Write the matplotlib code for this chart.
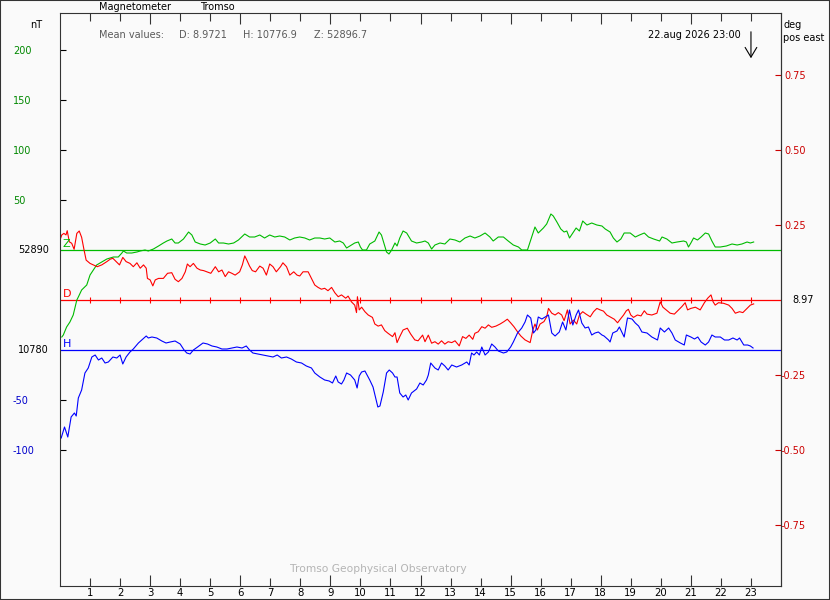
import matplotlib
matplotlib.use("Agg")
import matplotlib.pyplot as plt
from matplotlib.patches import Rectangle

plt.rcParams['font.family'] = ['DejaVu Sans']
FS = 7

# baselines and mean values printed on the chart
z_base = 52890
h_base = 10780
d_base = 8.97
mean_d, mean_h, mean_z = 8.9721, 10776.9, 52896.7

# Z component, nT above baseline
z_hours = [0.06, 0.11, 0.22, 0.33, 0.44, 0.56, 0.61, 0.72, 0.89, 1.00, 1.11, 1.22, 1.39, 1.56, 1.78, 1.94,
           2.06, 2.11, 2.22, 2.39, 2.56, 2.67, 2.83, 2.94, 3.11, 3.28, 3.44, 3.56, 3.72, 3.83, 3.94, 4.11,
           4.28, 4.39, 4.50, 4.67, 4.83, 5.00, 5.17, 5.28, 5.44, 5.61, 5.78, 5.94, 6.15, 6.31, 6.48, 6.65,
           6.81, 6.98, 7.15, 7.31, 7.48, 7.65, 7.81, 7.98, 8.15, 8.31, 8.48, 8.65, 8.81, 8.98, 9.15, 9.31,
           9.43, 9.54, 9.65, 9.81, 9.93, 10.00, 10.07, 10.20, 10.31, 10.48, 10.62, 10.70, 10.78, 10.87,
           10.95, 11.04, 11.15, 11.22, 11.31, 11.42, 11.54, 11.70, 11.87, 12.04, 12.15, 12.26, 12.37, 12.48,
           12.65, 12.81, 12.98, 13.15, 13.31, 13.48, 13.65, 13.81, 13.98, 14.15, 14.31, 14.42, 14.59, 14.76,
           14.92, 15.09, 15.26, 15.37, 15.56, 15.67, 15.81, 15.92, 16.09, 16.20, 16.34, 16.42, 16.54, 16.67,
           16.78, 16.87, 16.96, 17.07, 17.18, 17.29, 17.40, 17.54, 17.70, 17.87, 18.04, 18.15, 18.31, 18.42,
           18.54, 18.67, 18.78, 18.98, 19.15, 19.29, 19.45, 19.59, 19.76, 19.96, 20.04, 20.20, 20.37, 20.54,
           20.76, 20.85, 20.92, 21.00, 21.09, 21.22, 21.34, 21.48, 21.59, 21.70, 21.81, 21.98, 22.18, 22.37,
           22.54, 22.70, 22.87, 22.98, 23.09]
z_dev = [-87, -85, -77, -72, -65, -50, -47, -40, -35, -25, -20, -15, -12, -9, -7, -7,
         -3, -1, -3, -3, -2, -1, 0, -1, 1, 4, 7, 9, 11, 7, 7, 11,
         18, 15, 8, 6, 5, 7, 11, 7, 7, 6, 7, 10, 16, 13, 13, 15,
         12, 15, 13, 14, 13, 10, 12, 13, 12, 10, 12, 12, 11, 12, 8, 9,
         7, 2, 4, 7, 8, 3, 0, 0, 6, 9, 18, 15, 7, -2,
         -4, 0, 7, 4, 12, 19, 17, 9, 7, 8, 9, 7, 1, 5,
         7, 6, 11, 10, 8, 12, 14, 12, 14, 17, 13, 9, 13, 13,
         9, 5, 3, 0, 0, 10, 23, 17, 22, 26, 36, 34, 28, 21,
         18, 19, 12, 17, 22, 19, 29, 25, 27, 25, 24, 21, 18, 12,
         8, 11, 17, 17, 13, 15, 17, 13, 11, 9, 13, 11, 7, 8,
         9, 8, 3, 7, 12, 10, 13, 17, 16, 9, 3, 3, 4, 6,
         5, 6, 8, 7, 8]

# D component, degrees from baseline (positive east)
d_hours = [0.00, 0.06, 0.13, 0.20, 0.24, 0.31, 0.39, 0.47, 0.56, 0.64, 0.72, 0.80, 0.87, 1.00, 1.11, 1.24,
           1.39, 1.56, 1.67, 1.76, 1.87, 1.98, 2.09, 2.20, 2.33, 2.44, 2.56, 2.67, 2.78, 2.87, 2.91, 3.00,
           3.09, 3.17, 3.28, 3.44, 3.58, 3.72, 3.83, 3.94, 4.06, 4.17, 4.24, 4.33, 4.44, 4.56, 4.67, 4.78,
           4.89, 5.02, 5.17, 5.28, 5.39, 5.50, 5.61, 5.72, 5.83, 5.98, 6.07, 6.15, 6.22, 6.31, 6.40, 6.51,
           6.65, 6.76, 6.87, 6.98, 7.09, 7.20, 7.34, 7.42, 7.54, 7.65, 7.78, 7.89, 7.98, 8.09, 8.26, 8.37,
           8.48, 8.59, 8.70, 8.81, 8.92, 9.04, 9.15, 9.26, 9.37, 9.51, 9.59, 9.70, 9.81, 9.87, 9.90, 9.96,
           10.04, 10.15, 10.26, 10.40, 10.48, 10.59, 10.70, 10.81, 10.92, 11.07, 11.15, 11.22, 11.31, 11.42,
           11.56, 11.67, 11.81, 11.92, 12.07, 12.15, 12.26, 12.37, 12.48, 12.59, 12.70, 12.81, 12.92, 13.04,
           13.15, 13.29, 13.40, 13.51, 13.62, 13.74, 13.81, 13.92, 14.04, 14.15, 14.26, 14.37, 14.51, 14.65,
           14.78, 14.89, 15.00, 15.11, 15.23, 15.34, 15.48, 15.65, 15.74, 15.81, 15.89, 15.98, 16.11, 16.20,
           16.26, 16.37, 16.48, 16.59, 16.70, 16.78, 16.89, 16.98, 17.09, 17.20, 17.29, 17.40, 17.51, 17.65,
           17.76, 17.87, 17.98, 18.09, 18.20, 18.31, 18.45, 18.56, 18.65, 18.76, 18.85, 18.92, 19.00, 19.09,
           19.22, 19.34, 19.45, 19.54, 19.70, 19.87, 19.98, 20.07, 20.18, 20.31, 20.45, 20.59, 20.70, 20.81,
           20.89, 21.00, 21.15, 21.31, 21.45, 21.56, 21.67, 21.74, 21.81, 21.92, 22.09, 22.26, 22.37, 22.48,
           22.62, 22.73, 22.87, 22.98, 23.09]
d_dev = [0.200, 0.217, 0.222, 0.217, 0.231, 0.194, 0.189, 0.169, 0.222, 0.230, 0.209, 0.167, 0.133, 0.122, 0.117, 0.111,
         0.117, 0.128, 0.136, 0.139, 0.128, 0.117, 0.142, 0.128, 0.122, 0.111, 0.124, 0.106, 0.117, 0.106, 0.072, 0.067,
         0.047, 0.067, 0.072, 0.072, 0.089, 0.091, 0.069, 0.061, 0.072, 0.094, 0.120, 0.111, 0.122, 0.106, 0.100, 0.098,
         0.094, 0.089, 0.111, 0.094, 0.100, 0.078, 0.094, 0.089, 0.083, 0.094, 0.117, 0.147, 0.133, 0.113, 0.098, 0.094,
         0.113, 0.106, 0.083, 0.120, 0.111, 0.094, 0.111, 0.124, 0.111, 0.083, 0.094, 0.083, 0.080, 0.094, 0.094, 0.072,
         0.050, 0.042, 0.036, 0.039, 0.031, 0.042, 0.024, 0.011, 0.017, 0.006, 0.013, -0.006, -0.017, -0.042, 0.011, -0.033,
         -0.024, -0.039, -0.050, -0.058, -0.080, -0.087, -0.083, -0.102, -0.111, -0.122, -0.109, -0.142, -0.122, -0.100,
         -0.094, -0.113, -0.133, -0.136, -0.117, -0.139, -0.117, -0.144, -0.139, -0.147, -0.136, -0.147, -0.139, -0.142,
         -0.136, -0.153, -0.122, -0.128, -0.117, -0.131, -0.111, -0.106, -0.089, -0.094, -0.083, -0.091, -0.087, -0.080,
         -0.072, -0.064, -0.076, -0.089, -0.106, -0.120, -0.133, -0.142, -0.100, -0.080, -0.100, -0.080, -0.072, -0.056,
         -0.028, -0.044, -0.050, -0.042, -0.050, -0.069, -0.033, -0.080, -0.067, -0.080, -0.050, -0.039, -0.047, -0.056,
         -0.039, -0.028, -0.033, -0.037, -0.050, -0.056, -0.064, -0.076, -0.064, -0.050, -0.036, -0.031, -0.050, -0.058,
         -0.050, -0.053, -0.036, -0.047, -0.050, -0.044, -0.006, -0.024, -0.033, -0.044, -0.047, -0.033, -0.022, -0.009,
         -0.033, -0.028, -0.024, -0.033, -0.009, 0.006, 0.017, -0.006, -0.017, -0.009, -0.011, -0.017, -0.028, -0.044,
         -0.039, -0.042, -0.028, -0.017, -0.013]

# H component, nT above baseline
h_hours = [0.04, 0.15, 0.26, 0.37, 0.48, 0.54, 0.61, 0.72, 0.83, 0.94, 1.06, 1.17, 1.28, 1.39, 1.50, 1.61,
           1.76, 1.89, 2.00, 2.09, 2.20, 2.33, 2.44, 2.61, 2.72, 2.87, 2.94, 3.06, 3.22, 3.39, 3.53, 3.67,
           3.83, 4.00, 4.13, 4.22, 4.33, 4.44, 4.58, 4.76, 4.91, 5.06, 5.22, 5.39, 5.56, 5.72, 5.89, 6.06,
           6.20, 6.31, 6.42, 6.59, 6.76, 6.92, 7.09, 7.23, 7.37, 7.54, 7.70, 7.87, 8.04, 8.20, 8.37, 8.48,
           8.65, 8.81, 8.96, 9.07, 9.18, 9.26, 9.37, 9.45, 9.54, 9.67, 9.81, 9.89, 9.96, 10.04, 10.15, 10.31,
           10.42, 10.51, 10.58, 10.65, 10.76, 10.87, 10.96, 11.07, 11.15, 11.22, 11.31, 11.42, 11.51, 11.59,
           11.70, 11.87, 11.98, 12.09, 12.20, 12.26, 12.34, 12.48, 12.59, 12.70, 12.81, 12.92, 13.04, 13.20,
           13.37, 13.54, 13.62, 13.70, 13.78, 13.87, 13.96, 14.04, 14.15, 14.26, 14.37, 14.48, 14.59, 14.76,
           14.87, 15.00, 15.09, 15.23, 15.37, 15.48, 15.56, 15.67, 15.76, 15.84, 15.92, 16.04, 16.15, 16.26,
           16.37, 16.48, 16.62, 16.73, 16.84, 16.96, 17.07, 17.18, 17.26, 17.37, 17.48, 17.59, 17.70, 17.81,
           17.92, 18.04, 18.11, 18.26, 18.31, 18.40, 18.54, 18.62, 18.70, 18.78, 18.89, 19.04, 19.15, 19.26,
           19.37, 19.54, 19.70, 19.89, 19.98, 20.12, 20.26, 20.37, 20.48, 20.65, 20.78, 20.85, 21.00, 21.12,
           21.23, 21.34, 21.48, 21.59, 21.70, 21.81, 21.98, 22.12, 22.26, 22.40, 22.54, 22.62, 22.76, 22.89,
           22.98, 23.07]
h_dev = [-88, -77, -87, -67, -63, -66, -48, -40, -23, -18, -7, -5, -10, -8, -13, -12,
         -7, -8, -5, -14, -7, -2, 1, 7, 10, 14, 12, 13, 12, 9, 7, 8,
         9, 6, 0, -3, -4, 0, 3, 7, 6, 4, 3, 1, 1, 2, 3, 2,
         4, 0, -3, -4, -5, -6, -7, -5, -8, -7, -9, -12, -13, -16, -18, -23,
         -27, -30, -31, -33, -26, -32, -34, -30, -23, -25, -30, -38, -26, -22, -21, -30,
         -37, -48, -57, -56, -42, -23, -20, -23, -27, -27, -43, -47, -45, -50,
         -43, -39, -33, -35, -30, -25, -13, -18, -20, -13, -16, -20, -15, -17,
         -15, -12, -15, -3, -5, -2, -5, 3, -5, -2, 6, 3, -1, -3,
         -2, 3, 8, 17, 22, 28, 35, 32, 17, 20, 33, 31, 33, 35,
         17, 14, 18, 28, 20, 40, 25, 35, 40, 27, 22, 23, 15, 17,
         18, 15, 14, 10, 8, 17, 19, 23, 18, 13, 32, 31, 27, 24,
         18, 17, 13, 10, 22, 18, 22, 17, 10, 7, 5, 15, 13, 11,
         13, 8, 5, 8, 15, 13, 13, 10, 10, 12, 10, 12, 5, 5,
         4, 2]

hour_labels = [str(h) for h in range(1, 24)]
last_time = 23
date_text = '22.aug 2026 23:00'

nt_ticks = [200, 150, 100, 50]
h_ticks = [-50, -100]
deg_ticks = [0.75, 0.50, 0.25, -0.25, -0.50, -0.75]

green, red, blue = '#00bb00', '#ff0000', '#0000ff'
green_txt, red_txt, blue_txt = '#008800', '#cc0000', '#0000cc'
bg = '#fafafa'
frame = '#333333'

W, H = 830, 600
L, R, T, B = 60, 781, 13, 586
Z_ROW = 250  # pixel row of the Z baseline

# 1 px per nT; D baseline 50 px below Z, H baseline 100 px below Z; 300 px per degree
Z_OFF, D_OFF, H_OFF = 0, -50, -100
D_SCALE = 300


def fxy(x, y):
    return x / W, 1 - y / H


fig = plt.figure(figsize=(W / 100, H / 100), dpi=100, facecolor=bg)
ax = fig.add_axes([L / W, 1 - B / H, (R - L) / W, (B - T) / H], facecolor=bg)
ax.set_xlim(0, 24)
ax.set_ylim(Z_ROW - B, Z_ROW - T)

for s in ax.spines.values():
    s.set_color(frame)
    s.set_linewidth(0.8)

# baselines
ax.axhline(Z_OFF, color=green, lw=0.9)
ax.axhline(D_OFF, color=red, lw=0.9)
ax.axhline(H_OFF, color=blue, lw=0.9)
ax.plot(range(1, 24), [D_OFF] * 23, ls='none', marker='|', ms=4, mew=0.8, color=red)

# traces
ax.plot(z_hours, [Z_OFF + v for v in z_dev], color=green, lw=0.8)
ax.plot(d_hours, [D_OFF + v * D_SCALE for v in d_dev], color=red, lw=0.8)
ax.plot(h_hours, [H_OFF + v for v in h_dev], color=blue, lw=0.8)

# x axis: hours, long ticks every third hour
major = [h for h in range(1, 24) if h % 3 == 0]
minor = [h for h in range(1, 24) if h % 3 != 0]
ax.set_xticks(major, [str(h) for h in major])
ax.set_xticks(minor, [str(h) for h in minor], minor=True)
ax.tick_params(axis='x', which='both', direction='in', top=True, bottom=True,
               labelsize=FS + 0.3, pad=1.5, color=frame, width=0.8)
ax.tick_params(axis='x', which='major', length=8)
ax.tick_params(axis='x', which='minor', length=5.8)

# left axis: Z scale (green) and H scale (blue)
left_vals = [Z_OFF + v for v in nt_ticks] + [H_OFF + v for v in h_ticks]
left_cols = [green_txt] * len(nt_ticks) + [blue_txt] * len(h_ticks)
ax.set_yticks(left_vals, [str(v) for v in nt_ticks + h_ticks])
ax.tick_params(axis='y', direction='in', length=4.5, width=0.8, labelsize=FS, pad=34)
for lbl, tk, c in zip(ax.get_yticklabels(), ax.yaxis.get_major_ticks(), left_cols):
    lbl.set_color(c)
    lbl.set_horizontalalignment('left')
    tk.tick1line.set_color(c)

ax.text(-0.0155, Z_OFF, str(z_base), transform=ax.get_yaxis_transform(),
        ha='right', va='center', fontsize=FS)
ax.text(-0.0155, H_OFF, str(h_base), transform=ax.get_yaxis_transform(),
        ha='right', va='center', fontsize=FS)

# right axis: D in degrees
sec = ax.secondary_yaxis('right', functions=(lambda y: (y - D_OFF) / D_SCALE,
                                             lambda d: d * D_SCALE + D_OFF))
sec.set_yticks(deg_ticks, ['%.2f' % v for v in deg_ticks])
sec.tick_params(direction='in', length=4.5, width=0.8, colors=red_txt, labelsize=FS, pad=18)
for lbl in sec.get_yticklabels():
    lbl.set_horizontalalignment('right')
sec.spines['right'].set_color(frame)
sec.spines['right'].set_linewidth(0.8)
ax.text(1.016, D_OFF, '%.2f' % d_base, transform=ax.get_yaxis_transform(),
        ha='left', va='center', fontsize=FS)

# component letters on baselines
ax.text(0.004, Z_OFF + 1, 'Z', transform=ax.get_yaxis_transform(), color=green, fontsize=FS + 1, va='bottom')
ax.text(0.004, D_OFF + 1, 'D', transform=ax.get_yaxis_transform(), color=red, fontsize=FS + 1, va='bottom')
ax.text(0.004, H_OFF + 1, 'H', transform=ax.get_yaxis_transform(), color=blue, fontsize=FS + 1, va='bottom')

# end-of-data arrow
ax.annotate('', xy=(last_time, Z_ROW - 61), xytext=(last_time, Z_ROW - 29),
            arrowprops=dict(arrowstyle='->, head_length=0.5, head_width=0.3',
                            color='black', lw=0.8, mutation_scale=14))

# texts around the plot
fig.text(*fxy(99, 7), 'Magnetometer', fontsize=FS, va='center')
fig.text(*fxy(200, 7), 'Tromso', fontsize=FS, va='center')
fig.text(*fxy(30, 25), 'nT', fontsize=FS, va='center')
fig.text(*fxy(783, 25), 'deg', fontsize=FS, va='center')
fig.text(*fxy(783, 38), 'pos east', fontsize=FS, va='center')
grey = '#5a5a5a'
fig.text(*fxy(99, 35), 'Mean values:', fontsize=FS, va='center', color=grey)
fig.text(*fxy(179, 35), 'D: %.4f' % mean_d, fontsize=FS, va='center', color=grey)
fig.text(*fxy(243, 35), 'H: %.1f' % mean_h, fontsize=FS, va='center', color=grey)
fig.text(*fxy(314, 35), 'Z: %.1f' % mean_z, fontsize=FS, va='center', color=grey)
fig.text(*fxy(741, 35), date_text, fontsize=FS, va='center', ha='right')
fig.text(*fxy(378, 569), 'Tromso Geophysical Observatory', fontsize=FS + 0.7, va='center',
         ha='center', color='#b4b4b4')

fig.patches.append(Rectangle((0, 0), 1, 1, transform=fig.transFigure, fill=False,
                             edgecolor=frame, lw=1.5))

fig.savefig('out.png', dpi=100, facecolor=bg)
